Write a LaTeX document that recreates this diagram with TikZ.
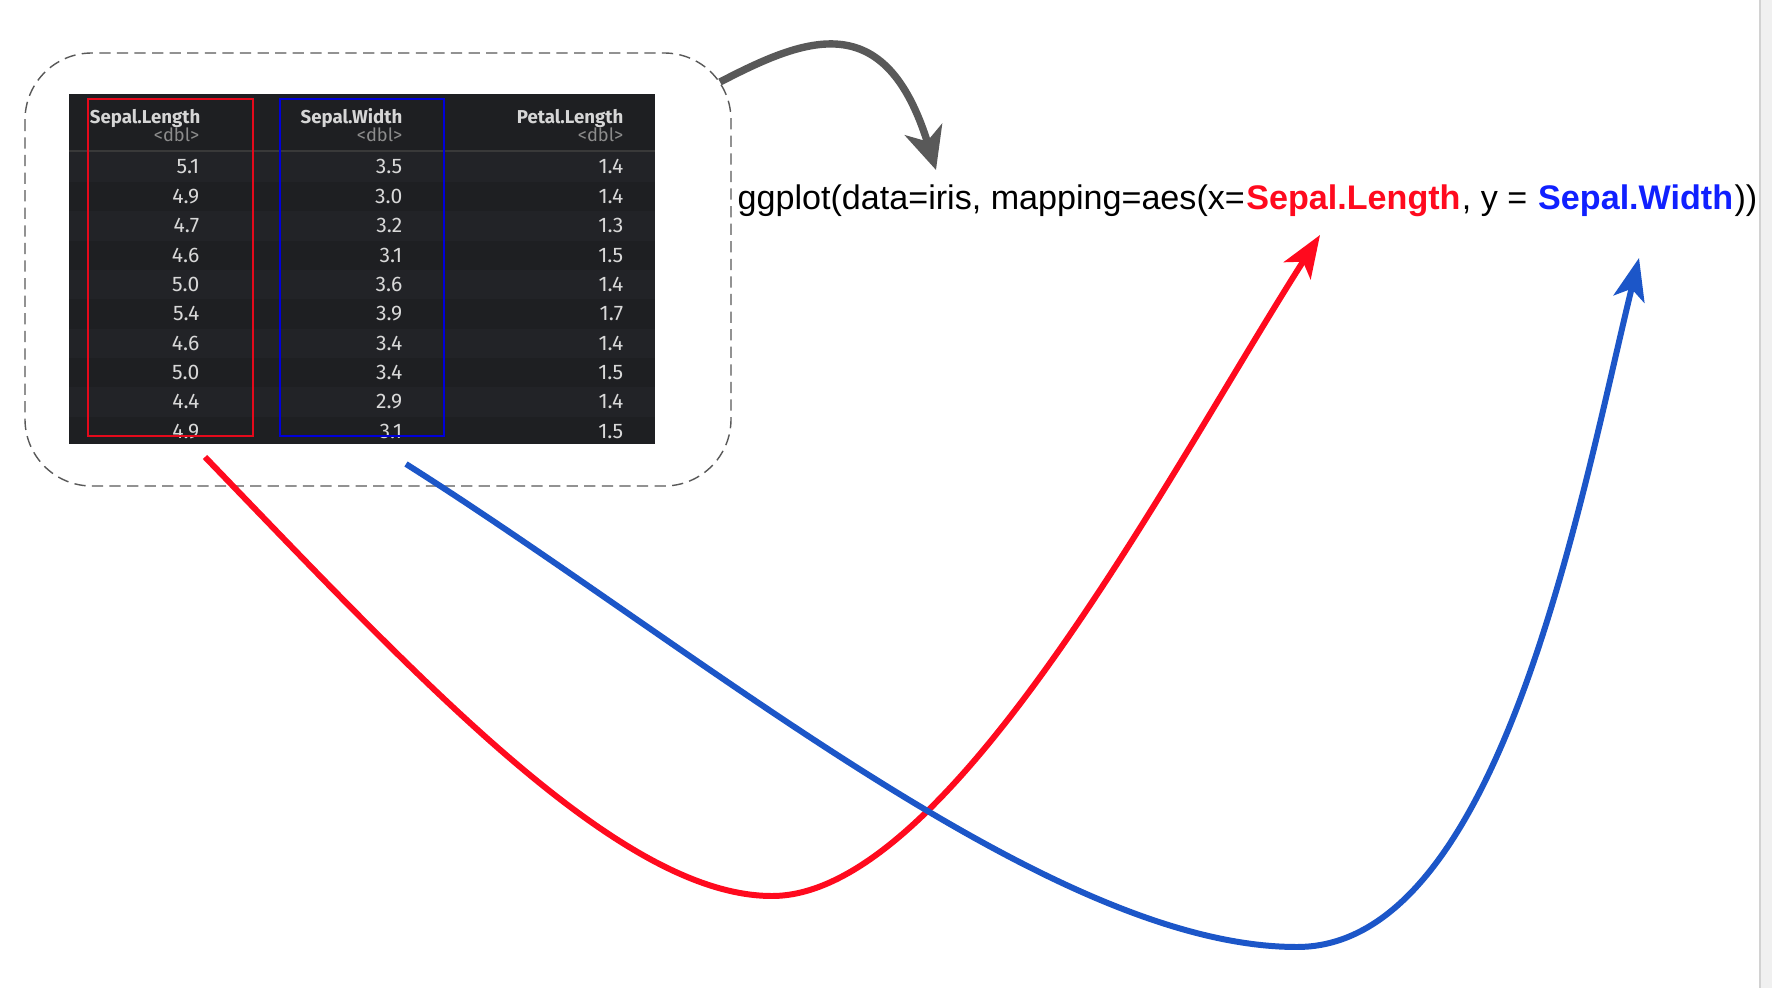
\documentclass[tikz,border=0pt]{standalone}
\usepackage{fontspec}
\setmainfont{Liberation Sans}
\newfontfamily\tablefont{Fira Sans}
\usetikzlibrary{arrows.meta,positioning}
\definecolor{tblbg}{HTML}{1E1F22}
\definecolor{rowbg}{HTML}{222327}
\definecolor{hdrfg}{HTML}{D6D6D6}
\definecolor{dblfg}{HTML}{8C8C8C}
\definecolor{valfg}{HTML}{D8D8D8}
\definecolor{xred}{HTML}{FF0A1E}
\definecolor{yblue}{HTML}{1020FF}
\definecolor{ycurve}{HTML}{1C56C8}
\definecolor{arrowgray}{HTML}{595959}
\tikzset{
  frame/.style={draw=gray!70!black,line width=0.4pt,dash pattern=on 3.2pt off 1.8pt,rounded corners=19pt},
  sepline/.style={draw=gray!45!black,line width=0.4pt},
  hdr/.style={font=\tablefont\fontsize{5.3}{6}\selectfont\bfseries,text=hdrfg,inner sep=0pt,anchor=base east},
  dbl/.style={font=\tablefont\fontsize{5.2}{6}\selectfont,text=dblfg,inner sep=0pt,anchor=base east},
  val/.style={font=\tablefont\fontsize{6}{7}\selectfont,text=valfg,inner sep=0pt,anchor=base east},
  xbox/.style={draw=xred!90!black,line width=0.45pt},
  ybox/.style={draw=blue!85!black,line width=0.45pt},
  code/.style={font=\fontsize{9.7}{12}\selectfont,inner sep=0pt,anchor=base west},
  xvar/.style={text=xred,font=\fontsize{9.7}{12}\selectfont\bfseries},
  yvar/.style={text=yblue,font=\fontsize{9.7}{12}\selectfont\bfseries},
  feed/.style={arrowgray,line width=2.1pt,-{Stealth[length=12pt,width=11pt,inset=3.5pt]}},
  xmap/.style={xred,line width=1.7pt,-{Stealth[length=12pt,width=9pt,inset=3pt]}},
  ymap/.style={ycurve,line width=1.7pt,-{Stealth[length=12pt,width=9pt,inset=3pt]}},
}

\begin{document}
\begin{tikzpicture}[x=0.01cm,y=-0.01cm]
  \useasboundingbox (0,0) rectangle (1772,988);
  \fill[white] (0,0) rectangle (1772,988);
  % window edge on the right
  \fill[gray!12] (1760,0) rectangle (1772,988);
  \draw[gray!35,line width=0.6pt] (1760,0) -- (1760,988);

  % dashed frame round the data
  \draw[frame] (25,53) rectangle (731,486);

  % the iris tibble
  \fill[tblbg] (69,94) rectangle (655,444);
  \foreach \i in {1,3,5,7,9}
    \fill[rowbg] (69,{152.5+29.35*(\i-1)}) rectangle (655,{152.5+29.35*\i});
  \draw[sepline] (69,151) -- (655,151);
  \node[hdr] (h1) at (201,124) {Sepal.Length};
  \node[hdr] (h2) at (403,124) {Sepal.Width};
  \node[hdr] (h3) at (624,124) {Petal.Length};
  \node[dbl] (d1) at (200,142) {<dbl>};
  \node[dbl] (d2) at (403,142) {<dbl>};
  \node[dbl] (d3) at (624,142) {<dbl>};
  \foreach \v [count=\i] in {5.1,4.9,4.7,4.6,5.0,5.4,4.6,5.0,4.4,4.9}
    \node[val] (sl\i) at (200,{174+29.35*(\i-1)}) {\v};
  \foreach \v [count=\i] in {3.5,3.0,3.2,3.1,3.6,3.9,3.4,3.4,2.9,3.1}
    \node[val] (sw\i) at (403,{174+29.35*(\i-1)}) {\v};
  \foreach \v [count=\i] in {1.4,1.4,1.3,1.5,1.4,1.7,1.4,1.5,1.4,1.5}
    \node[val] (pl\i) at (624,{174+29.35*(\i-1)}) {\v};

  % column highlights
  \draw[xbox] (88,99) rectangle (253,436);
  \draw[ybox] (280,99) rectangle (444,436);

  % the ggplot call
  \node[code] (call) at (737,209) {ggplot(data=iris, mapping=aes(x=};
  \node[code,xvar] (xvar) at (call.base east) {Sepal.Length};
  \node[code] (mid) at (xvar.base east) {, y =\ \null};
  \node[code,yvar] (yvar) at (mid.base east) {Sepal.Width};
  \node[code] (close) at (yvar.base east) {))};

  \coordinate (datafrom) at (720,82);
  \coordinate (datato) at (936,170);
  \coordinate (xfrom) at (205,457);
  \coordinate (xlow) at (772,896);
  \coordinate (xto) at (1320,235);
  \coordinate (yfrom) at (406,464);
  \coordinate (ylow) at (1297,947);
  \coordinate (yto) at (1639,258);

  % data goes into the call
  \draw[feed] (datafrom) .. controls (805,38) and (885,5) .. (datato);
  % columns go to the aesthetics
  \draw[xmap] (xfrom) .. controls (420,680) and (620,896) .. (xlow)
    .. controls (950,896) and (1170,470) .. (xto);
  \draw[ymap] (yfrom) .. controls (700,650) and (1050,947) .. (ylow)
    .. controls (1500,947) and (1580,500) .. (yto);
\end{tikzpicture}
\end{document}
